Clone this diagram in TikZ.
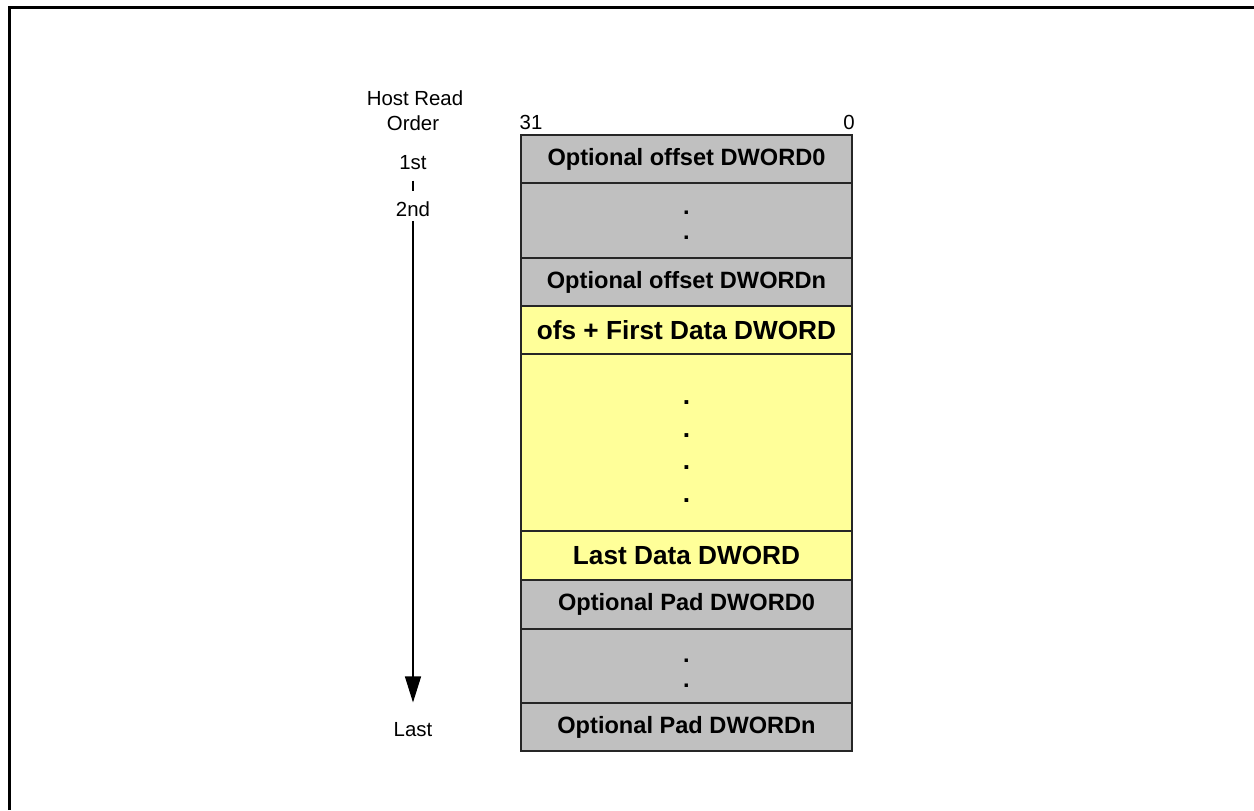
\documentclass[tikz,border=0pt]{standalone}
\usepackage{fontspec}
\setmainfont{Liberation Sans}
\usetikzlibrary{arrows.meta}
\definecolor{padgray}{HTML}{C0C0C0}
\definecolor{datayellow}{HTML}{FFFF99}
\begin{document}
\begin{tikzpicture}[x=0.5pt,y=-0.5pt]
\tikzset{row/.style = {draw=black!85, line width=0.6pt, minimum width=165.5pt, inner sep=0pt, align=center, font=\fontsize{11.8}{14}\selectfont\bfseries}}
\tikzset{grayrow/.style = {row, fill=padgray}}
\tikzset{yellowrow/.style = {row, fill=datayellow, font=\fontsize{13.1}{15}\selectfont\bfseries}}
\tikzset{lbl/.style = {inner sep=0pt, font=\fontsize{10.2}{12}\selectfont}}
\tikzset{order/.style = {-{Triangle[length=13pt,width=8pt]}, line width=0.6pt}}
\tikzset{tick/.style = {-, line width=0.6pt}}
\useasboundingbox (0,0) rectangle (1254,810);
\draw[line width=1.5pt] (9,810) -- (9,7) -- (1254,7);
\node[grayrow, minimum height=24pt](w0) at (686.5,159) {Optional offset DWORD0};
\node[grayrow, minimum height=37.5pt](w1) at (686.5,220.5) {\rule{0pt}{6.7pt}.\\[-1.5pt].};
\node[grayrow, minimum height=24pt](w2) at (686.5,282) {Optional offset DWORDn};
\node[yellowrow, minimum height=24pt](w3) at (686.5,330) {ofs + First Data DWORD};
\node[yellowrow, minimum height=88.5pt](w4) at (686.5,442.5) {\rule{0pt}{10.9pt}.\\[1.3pt].\\[1.3pt].\\[1.3pt].};
\node[yellowrow, minimum height=24.5pt](w5) at (686.5,555.5) {Last Data DWORD};
\node[grayrow, minimum height=24.5pt](w6) at (686.5,604.5) {Optional Pad DWORD0};
\node[grayrow, minimum height=37pt](w7) at (686.5,666) {\rule{0pt}{8.7pt}.\\[-1.5pt].};
\node[grayrow, minimum height=24pt](w8) at (686.5,727) {Optional Pad DWORDn};
\node[lbl](msb) at (531,122) {31};
\node[lbl](lsb) at (849,122) {0};
\node[lbl](host) at (415,98) {Host Read};
\node[lbl](order) at (413,123) {Order};
\node[lbl](first) at (413,163) {1st};
\node[lbl](second) at (413,209) {2nd};
\node[lbl](last) at (413,730) {Last};
\draw[tick, shorten <=5pt, shorten >=5pt] (first) -- (second);
\draw[order, shorten <=2pt, shorten >=10pt] (second) -- (last);
\end{tikzpicture}
\end{document}
